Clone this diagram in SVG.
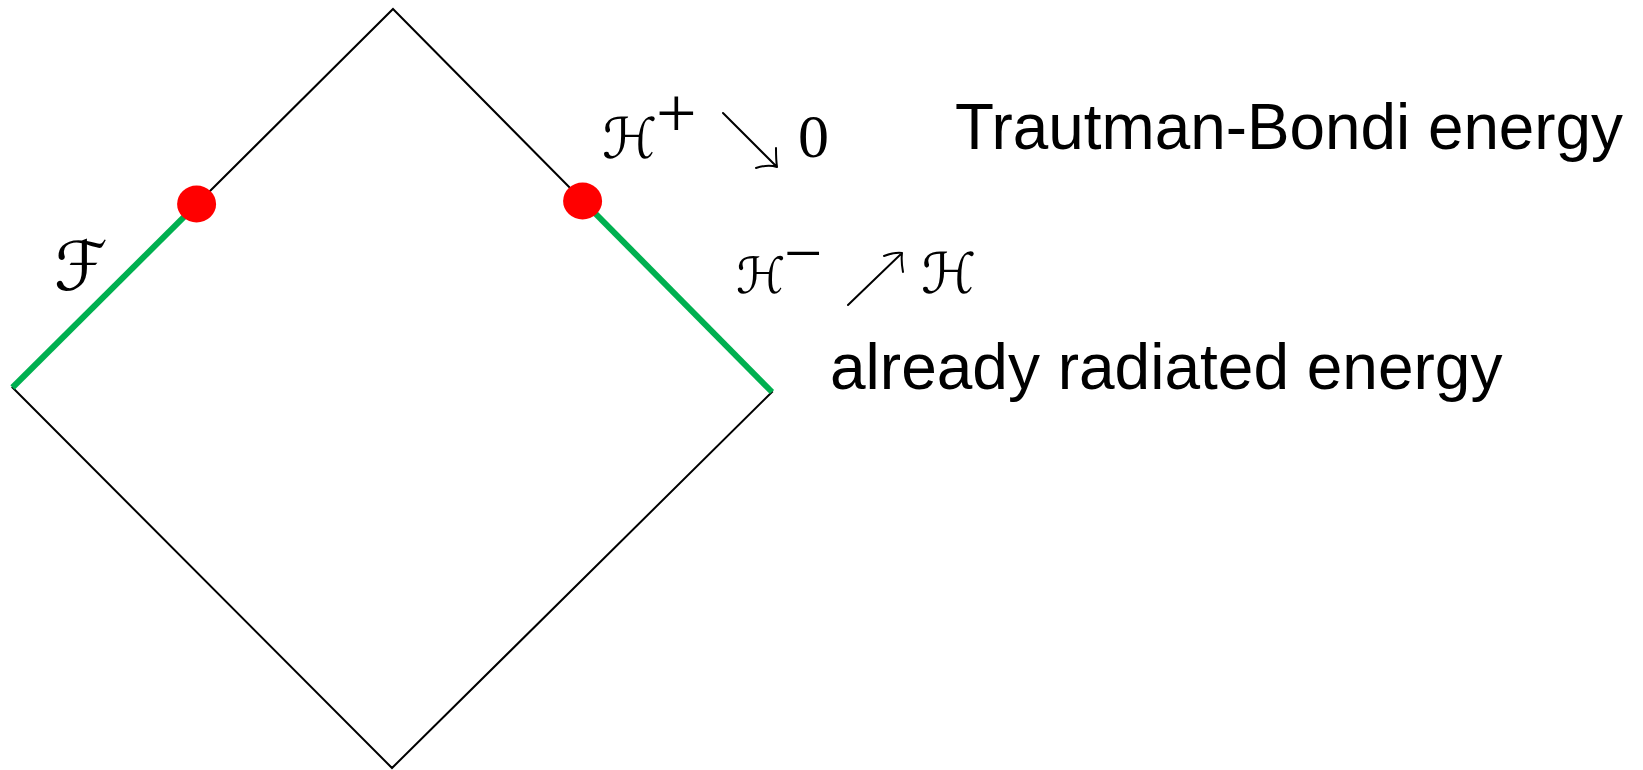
<svg xmlns="http://www.w3.org/2000/svg" width="1643" height="770" viewBox="0 0 1643 770">
<style>
.edge{fill:none;stroke:#000;stroke-width:2}
.green{fill:none;stroke:#00b050;stroke-width:6;stroke-linecap:butt}
.dot{fill:#ff0000}
.label{font-family:"Liberation Sans",Arial,sans-serif;font-size:64px;fill:#000}
.math{font-family:"DejaVu Serif","DejaVu Sans",serif;fill:#000}
.num{font-family:"Liberation Serif","DejaVu Serif",serif;fill:#000}
.arr{fill:none;stroke:#000;stroke-width:2;stroke-linecap:round}
</style>
<rect width="1643" height="770" fill="#fff"/>
<g id="connectors">
<polygon class="edge" points="393,9 772,392 392,768 12.5,387.5"/>
<line class="green" x1="12.5" y1="387.5" x2="196.6" y2="204.4"/>
<line class="green" x1="582.6" y1="200.6" x2="772" y2="392"/>
</g>
<g id="dot-left"><ellipse class="dot" cx="196.6" cy="204" rx="19.5" ry="18.5"/></g>
<g id="dot-right"><ellipse class="dot" cx="582.6" cy="201" rx="19.5" ry="18.5"/></g>
<g id="label-F"><text class="math" x="54" y="290" font-size="68" font-style="italic">ℱ</text></g>
<g id="label-Hplus">
<text class="math" x="602" y="158" font-size="56">ℋ</text>
<text class="num" x="656" y="137" font-size="72">+</text>
<path class="arr" d="M723,113 L777,167 M776,148 Q776,160 777,167 M756,168 Q768,164 777,167"/>
<text class="num" x="798" y="157" font-size="62">0</text>
</g>
<g id="label-Hminus">
<text class="math" x="736" y="293" font-size="50">ℋ</text>
<text class="num" x="784" y="276" font-size="68">−</text>
<path class="arr" d="M848,305 L902,253 M884,256 Q895,252 902,253 M902,253 Q901,262 903,272"/>
<text class="math" x="921" y="293" font-size="56">ℋ</text>
</g>
<g id="label-tb"><text class="label" x="955" y="149" textLength="668" lengthAdjust="spacingAndGlyphs">Trautman-Bondi energy</text></g>
<g id="label-rad"><text class="label" x="830" y="389">already radiated energy</text></g>
</svg>
